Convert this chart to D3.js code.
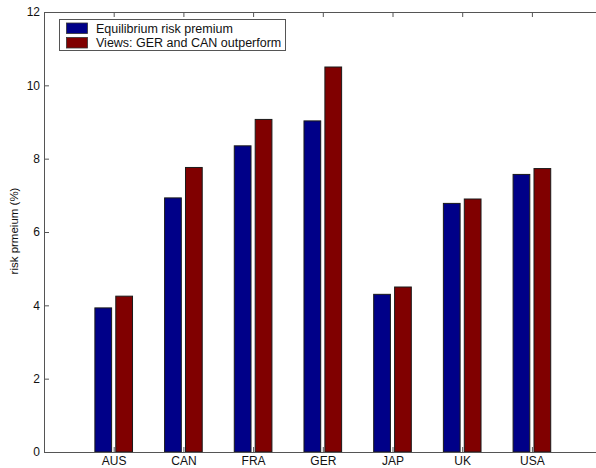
<!DOCTYPE html>
<html>
<head>
<meta charset="utf-8">
<script src="https://cdn.jsdelivr.net/npm/d3@7"></script>
<style>
  body { margin: 0; background: #fff; }
  text { font-family: "Liberation Sans", Arial, sans-serif; }
</style>
</head>
<body>
<div id="chart"></div>
<script>
// Data
const countries = ["AUS", "CAN", "FRA", "GER", "JAP", "UK", "USA"];
const equilibrium = [3.93, 6.93, 8.35, 9.03, 4.30, 6.78, 7.57];
const views = [4.25, 7.76, 9.07, 10.50, 4.50, 6.90, 7.73];
const seriesNames = ["Equilibrium risk premium", "Views: GER and CAN outperform"];
const seriesColors = ["#000088", "#800000"];
const yTicks = [0, 2, 4, 6, 8, 10, 12];

const width = 596;
const height = 468;
const margin = {top: 12, left: 44, bottom: 16};

const svg = d3.select("#chart")
    .append("svg")
    .attr("width", width)
    .attr("height", height);

// x runs 0..8 with categories at 1..7 (plot box runs past the right edge)
const x = d3.scaleLinear()
    .domain([0, 8])
    .range([margin.left, 601.6]);

const y = d3.scaleLinear()
    .domain([0, 12])
    .range([height - margin.bottom, margin.top]);

const barW = 0.24;
const offsets = [-0.15, 0.15];
const series = [equilibrium, views];

// Bars
series.forEach((vals, s) => {
    svg.append("g")
        .selectAll("rect")
        .data(vals)
        .join("rect")
        .attr("x", (d, i) => x(i + 1 + offsets[s] - barW / 2))
        .attr("y", d => y(d))
        .attr("width", x(barW) - x(0))
        .attr("height", d => y(0) - y(d))
        .attr("fill", seriesColors[s])
        .attr("stroke", "#1a1a1a")
        .attr("stroke-width", 1);
});

// Axes
const catTicks = countries.map((c, i) => i + 1);

const xAxis = d3.axisBottom(x)
    .tickValues(catTicks)
    .tickFormat((d, i) => countries[i])
    .tickSizeInner(-5)
    .tickSizeOuter(0)
    .tickPadding(4);

svg.append("g")
    .attr("transform", `translate(0,${y(0)})`)
    .call(xAxis);

const xTop = d3.axisTop(x)
    .tickValues(catTicks)
    .tickFormat("")
    .tickSizeInner(-5)
    .tickSizeOuter(0);

svg.append("g")
    .attr("transform", `translate(0,${y(12)})`)
    .call(xTop);

const yAxis = d3.axisLeft(y)
    .tickValues(yTicks)
    .tickSizeInner(-5)
    .tickSizeOuter(0)
    .tickPadding(4);

svg.append("g")
    .attr("transform", `translate(${margin.left},0)`)
    .call(yAxis);

svg.selectAll(".domain").attr("stroke", "#555");
svg.selectAll(".tick line").attr("stroke", "#555");
svg.selectAll(".tick text")
    .attr("fill", "#111")
    .style("font-size", "12px");

// Y axis label
svg.append("text")
    .attr("transform", "rotate(-90)")
    .attr("x", -231)
    .attr("y", 18)
    .attr("text-anchor", "middle")
    .attr("fill", "#111")
    .style("font-size", "11.5px")
    .text("risk prmeium (%)");

// Legend
const legend = svg.append("g").attr("transform", "translate(59.5,19.5)");

legend.append("rect")
    .attr("width", 226)
    .attr("height", 31)
    .attr("fill", "#fff")
    .attr("stroke", "#555");

seriesNames.forEach((name, i) => {
    legend.append("rect")
        .attr("x", 7)
        .attr("y", 3.5 + i * 14.5)
        .attr("width", 21)
        .attr("height", 10.5)
        .attr("fill", seriesColors[i])
        .attr("stroke", "#333")
        .attr("stroke-width", 0.8);
    legend.append("text")
        .attr("x", 36.5)
        .attr("y", 13 + i * 14.5)
        .attr("fill", "#111")
        .style("font-size", "12.5px")
        .text(name);
});
</script>
</body>
</html>
